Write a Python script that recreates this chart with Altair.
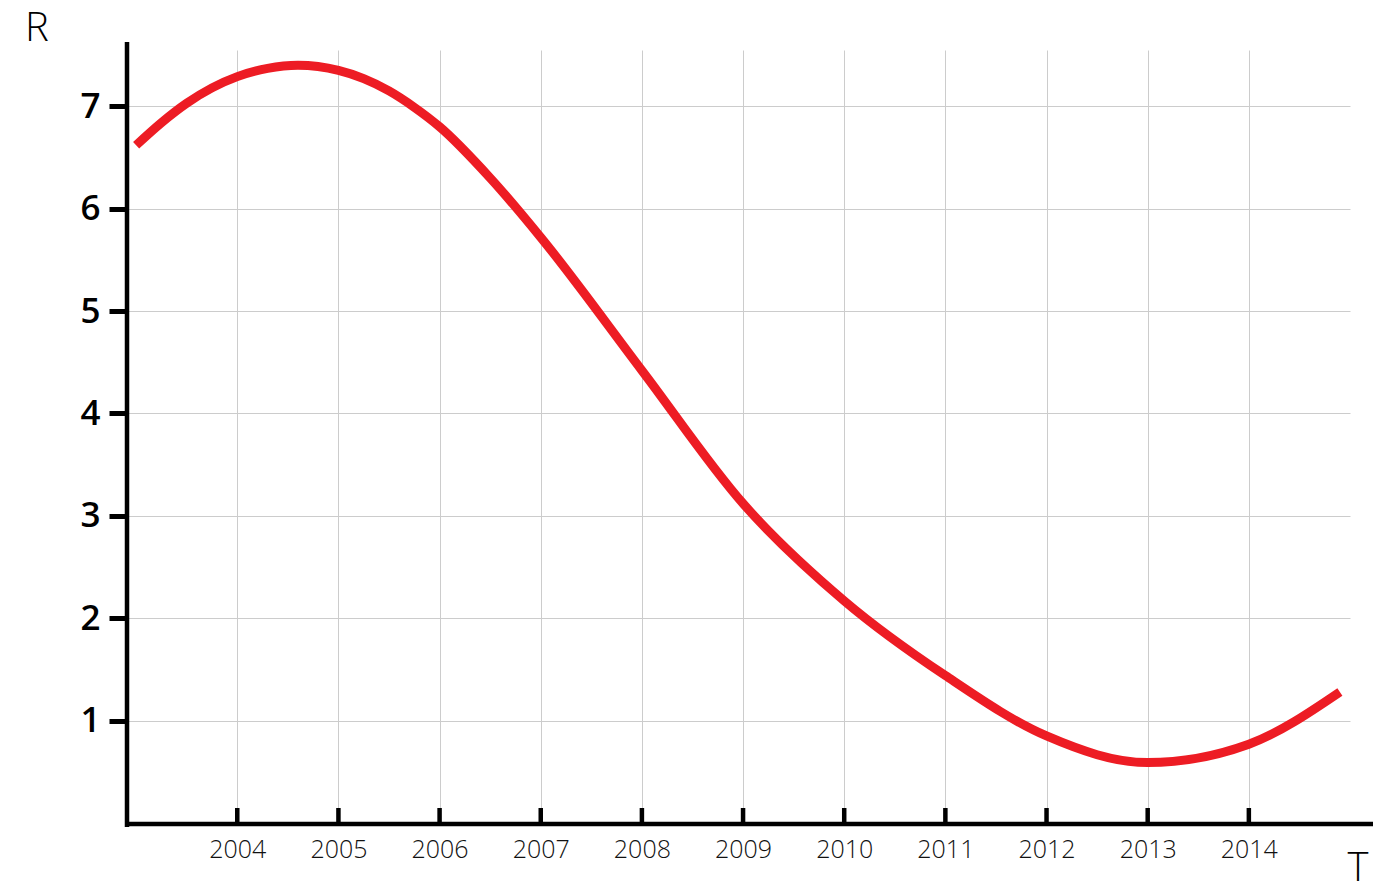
import altair as alt
import pandas as pd

# Curve
years = [2003.0, 2003.25, 2003.5, 2003.75, 2004.0, 2004.3, 2004.6, 2005.0, 2005.25,
         2005.5, 2005.75, 2006.0, 2006.5, 2007.0, 2008.0, 2009.0, 2010.0, 2011.0,
         2012.0, 2013.0, 2014.0, 2014.9]
values = [6.62, 6.84, 7.03, 7.18, 7.29, 7.37, 7.40, 7.35, 7.27,
          7.15, 6.99, 6.80, 6.30, 5.72, 4.42, 3.12, 2.17, 1.44,
          0.85, 0.59, 0.77, 1.28]

x_ticks = [2004, 2005, 2006, 2007, 2008, 2009, 2010, 2011, 2012, 2013, 2014]
y_ticks = [1, 2, 3, 4, 5, 6, 7]
x_title = "T"
y_title = "R"

W, H = 1224, 773
FONT = "Open Sans"

df = pd.DataFrame({"T": years, "R": values})
ticks_df = pd.DataFrame({"T": x_ticks})
one = pd.DataFrame({"a": [0]})

xscale = alt.Scale(domain=[2002.9, 2015], nice=False, zero=False)
yscale = alt.Scale(domain=[0, 7.55], nice=False, zero=False)

line = alt.Chart(df).mark_line(
    color="#ED1C24", strokeWidth=9, interpolate="monotone", strokeCap="butt"
).encode(
    x=alt.X("T:Q", scale=xscale,
            axis=alt.Axis(values=x_ticks, format="d", title=None, grid=True,
                          gridColor="#cccccc", gridWidth=1, ticks=False, domain=False,
                          labelFont=FONT, labelFontSize=25, labelFontWeight=300,
                          labelColor="#111111", labelPadding=14)),
    y=alt.Y("R:Q", scale=yscale,
            axis=alt.Axis(values=y_ticks, format="d", title=None, grid=True,
                          gridColor="#cccccc", gridWidth=1, ticks=True, tickSize=17,
                          tickWidth=5, tickColor="#000000", domain=False,
                          labelFont=FONT, labelFontSize=35, labelFontWeight=600,
                          labelColor="#000000", labelPadding=9)),
)

xticks = alt.Chart(ticks_df).mark_rule(color="#000000", strokeWidth=4.5).encode(
    x=alt.X("T:Q", scale=xscale),
    y=alt.value(H - 15),
    y2=alt.value(H + 1),
)

yaxis_line = alt.Chart(one).mark_rule(color="#000000", strokeWidth=4.5).encode(
    x=alt.value(1), y=alt.value(-8), y2=alt.value(H + 4)
)
xaxis_line = alt.Chart(one).mark_rule(color="#000000", strokeWidth=4.5).encode(
    x=alt.value(-1), x2=alt.value(W + 30), y=alt.value(H + 1)
)

rlabel = alt.Chart(one).mark_text(
    text=y_title, font=FONT, fontSize=40, fontWeight=300, color="#000000",
    align="center", baseline="middle"
).encode(x=alt.value(-89), y=alt.value(-21))

tlabel = alt.Chart(one).mark_text(
    text=x_title, font=FONT, fontSize=40, fontWeight=300, color="#000000",
    align="center", baseline="middle"
).encode(x=alt.value(W + 8), y=alt.value(H + 46))

chart = alt.layer(line, xticks, yaxis_line, xaxis_line, rlabel, tlabel).properties(
    width=W, height=H,
    autosize=alt.AutoSizeParams(type="none"),
    padding={"left": 118, "top": 42, "right": 23, "bottom": 62},
    background="#ffffff",
).configure_view(stroke=None)

chart.save("out.html", embed_options={"renderer": "svg", "actions": False})
